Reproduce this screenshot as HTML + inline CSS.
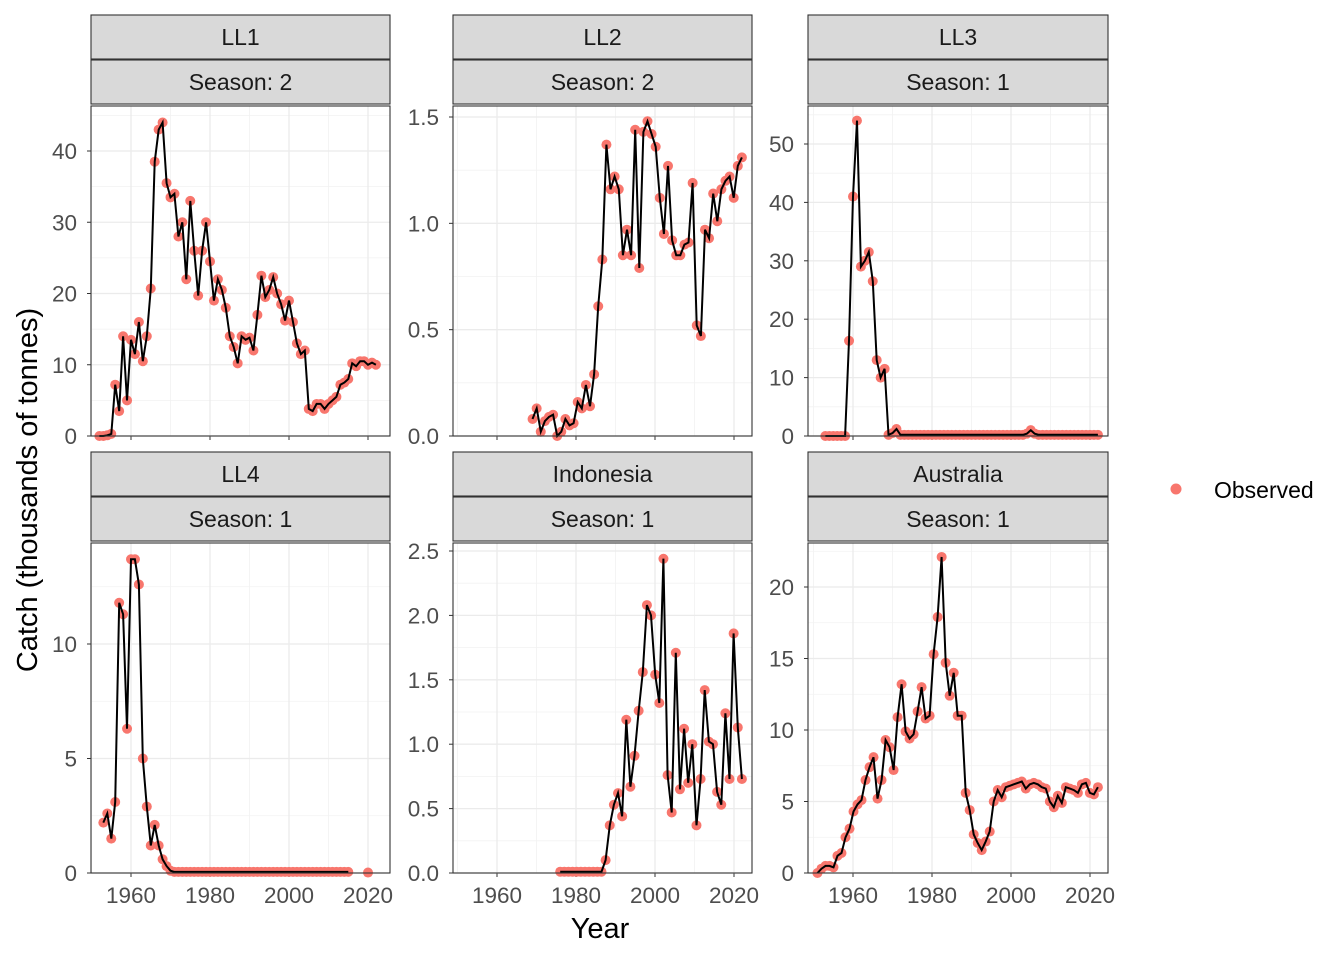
<!DOCTYPE html>
<html><head><meta charset="utf-8">
<style>
html,body{margin:0;padding:0;background:#fff;}
svg{display:block;font-family:"Liberation Sans",Arial,sans-serif;}
</style></head>
<body>
<svg id="s" width="1344" height="960" xmlns="http://www.w3.org/2000/svg"></svg>
<script>
const NS="http://www.w3.org/2000/svg";
const svg=document.getElementById('s');
function el(t,a,txt){const e=document.createElementNS(NS,t);for(const k in a)e.setAttribute(k,a[k]);if(txt!==undefined)e.textContent=txt;svg.appendChild(e);return e;}
const panels=[
 {l:91,r:390,t:106,b:436,x60:131,s1:"LL1",s2:"Season: 2",ymax:46,yscale:(436-151)/40,ymaj:[0,10,20,30,40],ylab:v=>v,xl:false,
  y0:1952,y1:2022,v:[0,0,0.1,0.3,7.2,3.5,14,5,13.5,11.5,16,10.5,14,20.7,38.5,43,44,35.5,33.5,34,28,30,22,33,26,19.7,26,30,24.5,19,22,20.5,18,14,12.5,10.2,14,13.5,13.8,12,17,22.5,19.5,20.5,22.3,20,18.5,16.2,19,16,13,11.5,12,3.8,3.5,4.5,4.5,3.8,4.5,5,5.5,7.2,7.5,8,10.2,9.8,10.5,10.5,10,10.3,10]},
 {l:453,r:752,t:106,b:436,x60:497,s1:"LL2",s2:"Season: 2",ymax:1.55,yscale:(436-117)/1.5,ymaj:[0,0.5,1,1.5],ylab:v=>v.toFixed(1),xl:false,
  y0:1969,y1:2022,v:[0.08,0.13,0.02,0.07,0.09,0.1,0.0,0.02,0.08,0.05,0.06,0.16,0.13,0.24,0.14,0.29,0.61,0.83,1.37,1.16,1.22,1.16,0.85,0.97,0.85,1.44,0.79,1.43,1.48,1.42,1.36,1.12,0.95,1.27,0.92,0.85,0.85,0.9,0.91,1.19,0.52,0.47,0.97,0.93,1.14,1.01,1.16,1.2,1.22,1.12,1.27,1.31]},
 {l:808,r:1108,t:106,b:436,x60:853,s1:"LL3",s2:"Season: 1",ymax:56,yscale:(436-144)/50,ymaj:[0,10,20,30,40,50],ylab:v=>v,xl:false,
  y0:1953,y1:2022,v:(()=>{let a=[0,0,0,0,0,0,16.3,41,54,29,30,31.5,26.5,13,10,11.5,0.2,0.5,1.2,0.2];while(a.length<70)a.push(0.2);a[52]=1.0;a[51]=0.4;a[53]=0.4;return a;})()},
 {l:91,r:390,t:543,b:873,x60:131,s1:"LL4",s2:"Season: 1",ymax:14.3,yscale:(873-644)/10,ymaj:[0,5,10],ylab:v=>v,xl:true,split:true,
  y0:1953,y1:2015,v:(()=>{let a=[2.2,2.6,1.5,3.1,11.8,11.3,6.3,13.7,13.7,12.6,5,2.9,1.2,2.1,1.2,0.6,0.3,0.1,0.05];while(a.length<63)a.push(0.05);return a;})()},
 {l:453,r:752,t:543,b:873,x60:497,s1:"Indonesia",s2:"Season: 1",ymax:2.55,yscale:(873-551)/2.5,ymaj:[0,0.5,1,1.5,2,2.5],ylab:v=>v.toFixed(1),xl:true,
  y0:1976,y1:2022,v:[0.01,0.01,0.01,0.01,0.01,0.01,0.01,0.01,0.01,0.01,0.01,0.1,0.37,0.53,0.62,0.44,1.19,0.67,0.91,1.26,1.56,2.08,2.0,1.54,1.32,2.44,0.76,0.47,1.71,0.65,1.12,0.7,1.0,0.37,0.73,1.42,1.02,1.0,0.63,0.53,1.24,0.73,1.86,1.13,0.73]},
 {l:808,r:1108,t:543,b:873,x60:853,s1:"Australia",s2:"Season: 1",ymax:23,yscale:(873-587)/20,ymaj:[0,5,10,15,20],ylab:v=>v,xl:true,
  y0:1951,y1:2022,v:[0,0.3,0.5,0.5,0.4,1.2,1.4,2.5,3.1,4.3,4.8,5.1,6.5,7.4,8.1,5.2,6.5,9.3,8.8,7.2,10.9,13.2,9.9,9.4,9.7,11.3,13.0,10.8,11,15.3,17.9,22.1,14.7,12.4,14,11,11,5.6,4.4,2.7,2.1,1.6,2.2,2.9,5,5.8,5.3,6,6.1,6.2,6.3,6.4,5.9,6.2,6.3,6.2,6,5.9,5,4.6,5.4,4.9,6,5.9,5.8,5.6,6.2,6.3,5.6,5.5,6]}
];
const XS=3.95;
panels.forEach(p=>{
 const X=yr=>p.x60+(yr-1960)*XS, Y=v=>p.b-v*p.yscale;
 el('rect',{x:p.l,y:p.t-91,width:p.r-p.l,height:44,fill:'#d9d9d9',stroke:'#333',"stroke-width":1.1});
 el('rect',{x:p.l,y:p.t-46,width:p.r-p.l,height:44,fill:'#d9d9d9',stroke:'#333',"stroke-width":1.1});
 el('text',{x:(p.l+p.r)/2,y:p.t-61,"text-anchor":"middle","font-size":23,fill:'#1a1a1a'},p.s1);
 el('text',{x:(p.l+p.r)/2,y:p.t-16,"text-anchor":"middle","font-size":23,fill:'#1a1a1a'},p.s2);
 for(const yr of [1950,1970,1990,2010]){const x=X(yr);if(x>p.l&&x<p.r)el('line',{x1:x,x2:x,y1:p.t,y2:p.b,stroke:'#f2f2f2',"stroke-width":0.8});}
 const st=p.ymaj[1]-p.ymaj[0];
 for(let v=st/2;v<p.ymax;v+=st){el('line',{x1:p.l,x2:p.r,y1:Y(v),y2:Y(v),stroke:'#f2f2f2',"stroke-width":0.8});}
 for(const yr of [1960,1980,2000,2020]){const x=X(yr);el('line',{x1:x,x2:x,y1:p.t,y2:p.b,stroke:'#ebebeb',"stroke-width":1.3});
   el('line',{x1:x,x2:x,y1:p.b,y2:p.b+4,stroke:'#333',"stroke-width":1});
   if(p.xl)el('text',{x:x,y:p.b+30,"text-anchor":"middle","font-size":22.5,fill:'#4d4d4d'},yr);}
 p.ymaj.forEach(v=>{el('line',{x1:p.l,x2:p.r,y1:Y(v),y2:Y(v),stroke:'#ebebeb',"stroke-width":1.3});
   el('line',{x1:p.l-4,x2:p.l,y1:Y(v),y2:Y(v),stroke:'#333',"stroke-width":1});
   el('text',{x:p.l-14,y:Y(v)+8,"text-anchor":"end","font-size":22.5,fill:'#4d4d4d'},p.ylab(v));});
 const n=p.v.length, d=(p.y1-p.y0)/(n-1);
 const pts=p.v.map((v,i)=>[X(p.y0+i*d),Y(v)]);
 if(p.split) pts.push([X(2020),Y(0.02)]);
 pts.forEach(q=>el('circle',{cx:q[0],cy:q[1],r:5,fill:'#F8766D'}));
 const lp=p.split?pts.slice(0,-1):pts;
 el('polyline',{points:lp.map(q=>q[0].toFixed(1)+','+q[1].toFixed(1)).join(' '),fill:'none',stroke:'#000',"stroke-width":2});
 el('rect',{x:p.l,y:p.t,width:p.r-p.l,height:p.b-p.t,fill:'none',stroke:'#333',"stroke-width":1.1});
});
el('text',{x:0,y:0,transform:'translate(37,490) rotate(-90)',"text-anchor":"middle","font-size":29,fill:'#000'},'Catch (thousands of tonnes)');
el('text',{x:600,y:938,"text-anchor":"middle","font-size":29,fill:'#000'},'Year');
el('circle',{cx:1176,cy:489,r:5.5,fill:'#F8766D'});
el('text',{x:1214,y:498,"font-size":23,fill:'#000'},'Observed');
</script>
</body></html>
